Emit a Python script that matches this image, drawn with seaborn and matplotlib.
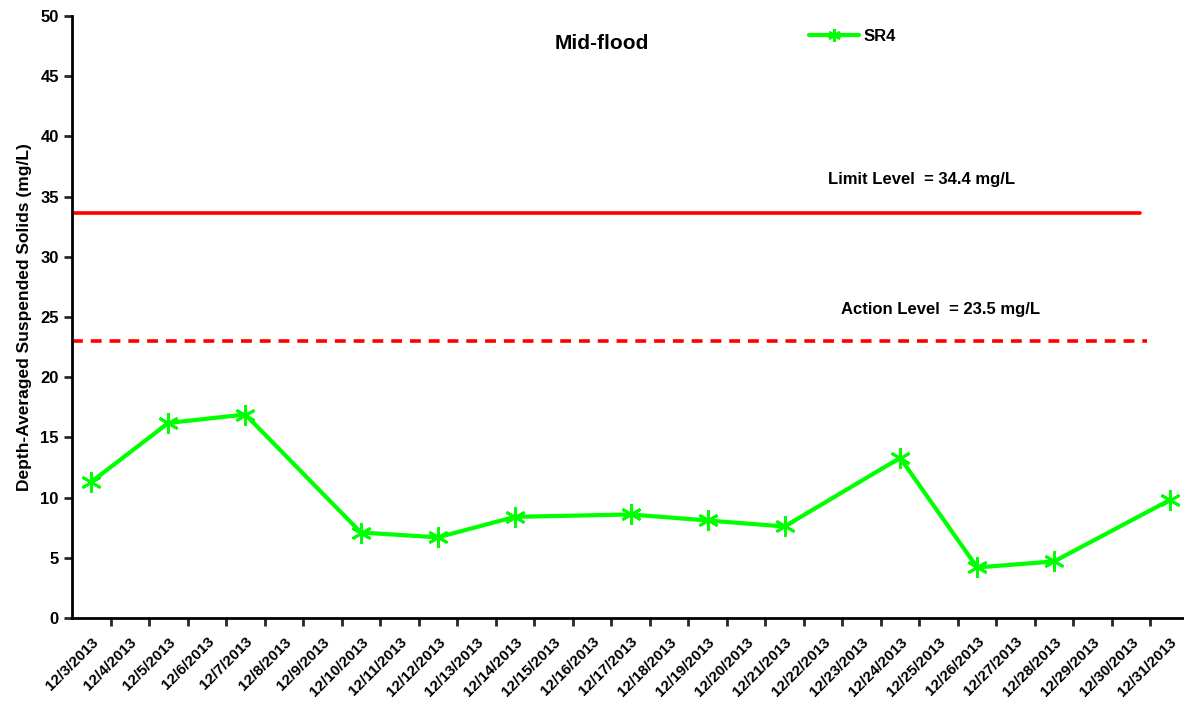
import numpy as np
import pandas as pd
import seaborn as sns
import matplotlib.pyplot as plt

dates = ["12/%d/2013" % d for d in range(3, 32)]
sample_dates = ["12/3/2013", "12/5/2013", "12/7/2013", "12/10/2013", "12/12/2013",
                "12/14/2013", "12/17/2013", "12/19/2013", "12/21/2013", "12/24/2013",
                "12/26/2013", "12/28/2013", "12/31/2013"]
sr4 = [11.3, 16.2, 16.9, 7.1, 6.7, 8.4, 8.6, 8.1, 7.6, 13.3, 4.2, 4.7, 9.8]
limit_level = 33.6
action_level = 23.0
limit_text = "Limit Level  = 34.4 mg/L"
action_text = "Action Level  = 23.5 mg/L"

df = pd.DataFrame({"date": sample_dates, "tss": sr4})
df["pos"] = [dates.index(d) for d in df["date"]]

sns.set_style("white")
plt.rcParams["font.family"] = ["Liberation Sans", "DejaVu Sans"]
plt.rcParams["font.weight"] = "bold"
plt.rcParams["text.color"] = "black"

fig = plt.figure(figsize=(11.84, 7.08), dpi=100)
ax = fig.add_axes([72 / 1184, 90 / 708, 1117 / 1184, 602 / 708])

ax.axhline(limit_level, xmin=0, xmax=0.956, color="#ff0000", lw=2.6)
ax.axhline(action_level, xmin=0, xmax=0.962, color="#ff0000", lw=2.6, ls=(0, (3, 2.2)))

sns.lineplot(data=df, x="pos", y="tss", ax=ax, color="#00ff00", lw=3,
             marker=(6, 2, 0), markersize=15, markeredgewidth=2,
             markeredgecolor="#00ff00", label="SR4")

ax.set_xlim(-0.5, len(dates) - 0.5)
ax.set_ylim(0, 50)
ax.set_yticks(np.arange(0, 51, 5))
ax.set_xticks(range(len(dates)))
ax.set_xticklabels(dates, rotation=45, ha="right", rotation_mode="anchor",
                   fontsize=11, fontweight="bold", color="black")
ax.set_xticks(np.arange(0.5, len(dates) - 0.5, 1), minor=True)
ax.tick_params(axis="x", which="major", length=0, pad=12)
ax.tick_params(axis="x", which="minor", length=6, width=2, direction="out", bottom=True)
ax.tick_params(axis="y", length=6, width=2, direction="out", left=True, labelsize=12,
               labelcolor="black")
for lab in ax.get_yticklabels():
    lab.set_fontweight("bold")

for s in ["top", "right"]:
    ax.spines[s].set_visible(False)
for s in ["left", "bottom"]:
    ax.spines[s].set_color("black")
    ax.spines[s].set_linewidth(2)

ax.set_xlabel("")
ax.set_ylabel("Depth-Averaged Suspended Solids (mg/L)", fontsize=12.5, fontweight="bold",
              color="black", labelpad=6)

ax.text(0.474, 0.955, "Mid-flood", transform=ax.transAxes, fontsize=15, fontweight="bold",
        ha="center", va="center", color="black")
ax.text(0.761, 0.728, limit_text, transform=ax.transAxes, fontsize=12, fontweight="bold",
        ha="center", va="center", color="black")
ax.text(0.778, 0.513, action_text, transform=ax.transAxes, fontsize=12, fontweight="bold",
        ha="center", va="center", color="black")

ax.legend(loc="center left", bbox_to_anchor=(0.646, 0.966), frameon=False,
          handlelength=3.0, handletextpad=0.3, markerscale=0.6, labelcolor="black",
          prop={"weight": "bold", "size": 12})

fig.savefig("out.png", dpi=100)
